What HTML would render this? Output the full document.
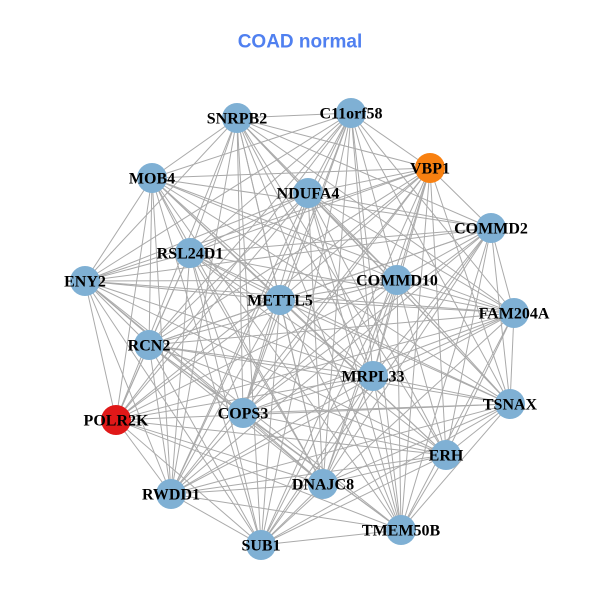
<!DOCTYPE html>
<html><head><meta charset="utf-8"><style>
html,body{margin:0;padding:0;background:#fff;}
svg{display:block;}
.l{font-family:"Liberation Serif",serif;font-weight:bold;font-size:16px;fill:#000;text-anchor:middle;dominant-baseline:central;}
</style></head><body>
<svg id="s" width="600" height="600" viewBox="0 0 600 600">
<rect width="600" height="600" fill="#fff"/>
<text x="300" y="42" font-family="Liberation Sans,sans-serif" font-weight="bold" font-size="19" fill="#5080f0" text-anchor="middle" dominant-baseline="central">COAD normal</text>
<g id="e" stroke="#aaaaaa" stroke-width="1"></g>
<g id="n"></g>
<g>
<text class="l" x="237" y="119">SNRPB2</text>
<text class="l" x="351" y="114">C11orf58</text>
<text class="l" x="430" y="169">VBP1</text>
<text class="l" x="152" y="179">MOB4</text>
<text class="l" x="308" y="194">NDUFA4</text>
<text class="l" x="491" y="229">COMMD2</text>
<text class="l" x="190" y="254">RSL24D1</text>
<text class="l" x="85" y="282">ENY2</text>
<text class="l" x="397" y="281">COMMD10</text>
<text class="l" x="280" y="301">METTL5</text>
<text class="l" x="514" y="314">FAM204A</text>
<text class="l" x="149" y="346">RCN2</text>
<text class="l" x="373" y="377">MRPL33</text>
<text class="l" x="510" y="405">TSNAX</text>
<text class="l" x="116" y="421">POLR2K</text>
<text class="l" x="243" y="414">COPS3</text>
<text class="l" x="446" y="456">ERH</text>
<text class="l" x="323" y="485">DNAJC8</text>
<text class="l" x="171" y="495">RWDD1</text>
<text class="l" x="401" y="531">TMEM50B</text>
<text class="l" x="261" y="546">SUB1</text>
</g>
</svg>
<script>
var P=[[237,118],[351,113],[430,168],[152,178],[308,193],[491,228],[190,253],[85,281],[397,280],[280,300],[514,313],[149,345],[373,376],[510,404],[116,420],[243,413],[446,455],[323,484],[171,494],[401,530],[261,545]];
var ns="http://www.w3.org/2000/svg",e=document.getElementById("e"),n=document.getElementById("n");
for(var i=0;i<P.length;i++)for(var j=i+1;j<P.length;j++){
 if((i*7+j*3)%11==0)continue;
 var l=document.createElementNS(ns,"line");
 l.setAttribute("x1",P[i][0]);l.setAttribute("y1",P[i][1]);l.setAttribute("x2",P[j][0]);l.setAttribute("y2",P[j][1]);e.appendChild(l);}
for(var i=0;i<P.length;i++){var c=document.createElementNS(ns,"circle");
 c.setAttribute("cx",P[i][0]);c.setAttribute("cy",P[i][1]);c.setAttribute("r",15);
 c.setAttribute("fill",i==2?"#f88010":(i==14?"#e01818":"#7fb0d4"));n.appendChild(c);}
</script>
</body></html>
